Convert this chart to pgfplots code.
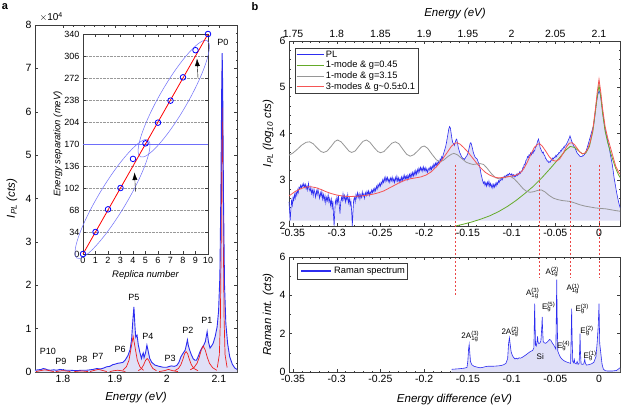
\documentclass[border=0pt]{standalone}
\usepackage{fontspec}
\setmainfont{Liberation Sans}
\usepackage{pgfplots}
\usepackage{pgfplotstable}
\pgfplotsset{compat=1.18}
\usetikzlibrary{arrows.meta,shapes.geometric}

\definecolor{plblue}{RGB}{45,45,240}
\definecolor{lav}{RGB}{224,224,247}
\definecolor{fitred}{RGB}{238,30,30}
\definecolor{bred}{RGB}{245,85,85}
\definecolor{bgreen}{RGB}{100,170,40}
\definecolor{bgray}{RGB}{150,150,150}
\definecolor{dred}{RGB}{235,70,70}
\definecolor{elblue}{RGB}{110,110,250}
\definecolor{frm}{RGB}{60,60,60}

\newcommand{\fsz}[2]{\fontsize{#1}{#2}\selectfont}
\newcommand{\ph}[3]{#1\rlap{\textsuperscript{#3}}\textsubscript{#2}}

\pgfplotsset{
  mybase/.style={scale only axis, tick align=inside, axis line style={frm},
    tick style={frm, line width=0.4pt}, major tick length=3pt, minor tick length=1.5pt,
    /pgf/number format/assume math mode=true,
    tick label style={font=\fsz{10.5}{12}},
    label style={font=\fsz{11.5}{13}\itshape}},
}

% ---------- panel a : PL spectrum (x 10^4 cts) ----------
\pgfplotstableread{
x y
1.746 0.04
1.752 0.05
1.758 0.06
1.762 0.08
1.766 0.07
1.770 0.05
1.776 0.04
1.782 0.05
1.788 0.04
1.794 0.06
1.800 0.05
1.806 0.04
1.815 0.04
1.825 0.03
1.835 0.04
1.845 0.04
1.852 0.05
1.858 0.06
1.865 0.08
1.872 0.07
1.878 0.09
1.884 0.12
1.890 0.13
1.896 0.17
1.900 0.18
1.905 0.20
1.910 0.21
1.915 0.22
1.920 0.28
1.925 0.38
1.929 0.51
1.932 0.75
1.9345 1.20
1.9365 1.50
1.9385 1.05
1.940 0.80
1.9425 0.85
1.945 0.62
1.948 0.45
1.951 0.31
1.953 0.40
1.9545 0.44
1.956 0.33
1.959 0.45
1.9615 0.62
1.964 0.48
1.967 0.31
1.971 0.22
1.977 0.16
1.985 0.13
1.993 0.11
2.000 0.11
2.005 0.13
2.009 0.14
2.014 0.13
2.019 0.15
2.023 0.22
2.027 0.35
2.031 0.43
2.035 0.50
2.0375 0.62
2.0395 0.74
2.0415 0.60
2.044 0.50
2.047 0.40
2.0505 0.31
2.054 0.27
2.057 0.27
2.060 0.35
2.0635 0.46
2.067 0.55
2.071 0.62
2.074 0.70
2.0775 0.93
2.080 0.70
2.083 0.55
2.086 0.60
2.089 0.66
2.093 0.82
2.0967 1.04
2.0995 1.40
2.102 2.20
2.104 4.20
2.1055 6.50
2.1065 7.35
2.1075 6.50
2.109 4.00
2.111 2.00
2.1135 1.12
2.117 0.65
2.121 0.35
2.126 0.18
2.131 0.09
2.135 0.06
}\pla

% ---------- panel b top : PL (log10 cts) vs energy difference ----------
\pgfplotstableread{
x y
-0.3546 2.52
-0.3538 2.30
-0.3532 2.12
-0.3525 2.35
-0.3517 2.55
-0.3508 2.45
-0.3500 2.62
-0.3492 2.55
-0.3484 2.68
-0.3475 2.60
-0.3466 2.74
-0.3457 2.66
-0.3448 2.78
-0.3440 2.72
-0.3431 2.84
-0.3422 2.80
-0.3413 2.88
-0.3404 2.82
-0.3395 2.90
-0.3386 2.85
-0.3377 2.92
-0.3368 2.84
-0.3359 2.90
-0.3350 2.80
-0.3341 2.87
-0.3332 2.78
-0.3323 2.92
-0.3314 2.80
-0.3305 2.75
-0.3296 2.84
-0.3287 2.70
-0.3278 2.78
-0.3269 2.66
-0.3260 2.80
-0.3251 2.72
-0.3242 2.62
-0.3233 2.76
-0.3224 2.68
-0.3215 2.80
-0.3206 2.70
-0.3197 2.60
-0.3188 2.72
-0.3179 2.64
-0.3170 2.75
-0.3161 2.58
-0.3152 2.68
-0.3143 2.55
-0.3134 2.66
-0.3125 2.50
-0.3116 2.62
-0.3107 2.55
-0.3098 2.68
-0.3089 2.52
-0.3080 2.60
-0.3071 2.45
-0.3062 2.58
-0.3053 2.40
-0.3044 2.55
-0.3036 2.20
-0.3030 2.00
-0.3024 2.25
-0.3016 2.55
-0.3007 2.48
-0.2998 2.62
-0.2989 2.50
-0.2980 2.66
-0.2971 2.45
-0.2963 2.27
-0.2955 2.50
-0.2946 2.62
-0.2937 2.55
-0.2928 2.70
-0.2919 2.58
-0.2910 2.66
-0.2901 2.52
-0.2892 2.64
-0.2883 2.56
-0.2874 2.68
-0.2865 2.50
-0.2856 2.60
-0.2847 2.45
-0.2838 2.55
-0.2829 2.30
-0.2822 2.00
-0.2815 2.28
-0.2807 2.55
-0.2798 2.62
-0.2789 2.52
-0.2780 2.68
-0.2771 2.60
-0.2762 2.72
-0.2753 2.62
-0.2744 2.70
-0.2735 2.58
-0.2726 2.68
-0.2717 2.62
-0.2708 2.74
-0.2699 2.64
-0.2690 2.70
-0.2681 2.60
-0.2672 2.72
-0.2663 2.66
-0.2654 2.75
-0.2645 2.68
-0.2636 2.76
-0.2627 2.66
-0.2618 2.74
-0.2609 2.70
-0.2600 2.78
-0.2591 2.72
-0.2582 2.80
-0.2573 2.74
-0.2564 2.82
-0.2555 2.76
-0.2546 2.86
-0.2537 2.80
-0.2528 2.90
-0.2519 2.84
-0.2510 2.92
-0.2501 2.86
-0.2492 2.95
-0.2483 2.90
-0.2474 3.00
-0.2465 2.94
-0.2456 3.04
-0.2447 2.96
-0.2438 3.06
-0.2429 2.98
-0.2420 3.05
-0.2411 2.96
-0.2402 3.02
-0.2393 2.94
-0.2384 3.04
-0.2375 2.98
-0.2366 3.06
-0.2357 2.96
-0.2348 3.02
-0.2339 2.94
-0.2330 3.05
-0.2321 2.98
-0.2312 3.08
-0.2303 2.97
-0.2294 3.04
-0.2285 2.95
-0.2276 3.03
-0.2267 2.96
-0.2258 3.06
-0.2249 2.98
-0.2240 3.08
-0.2231 3.00
-0.2222 3.10
-0.2213 3.02
-0.2204 3.08
-0.2195 3.00
-0.2186 3.10
-0.2177 3.03
-0.2168 3.12
-0.2159 3.05
-0.2150 3.14
-0.2141 3.06
-0.2132 3.16
-0.2123 3.08
-0.2114 3.18
-0.2105 3.10
-0.2096 3.20
-0.2087 3.12
-0.2078 3.22
-0.2069 3.15
-0.2060 3.25
-0.2051 3.18
-0.2042 3.27
-0.2033 3.20
-0.2024 3.26
-0.2015 3.18
-0.2006 3.28
-0.1997 3.20
-0.1988 3.26
-0.1979 3.18
-0.1970 3.24
-0.1961 3.16
-0.1952 3.22
-0.1943 3.26
-0.1934 3.20
-0.1925 3.28
-0.1916 3.22
-0.1907 3.30
-0.1898 3.25
-0.1889 3.34
-0.1880 3.28
-0.1871 3.36
-0.1862 3.30
-0.1853 3.38
-0.1844 3.32
-0.1835 3.40
-0.1826 3.36
-0.1817 3.45
-0.1808 3.40
-0.1799 3.50
-0.1790 3.46
-0.1781 3.55
-0.1772 3.60
-0.1763 3.66
-0.1754 3.72
-0.1745 3.80
-0.1736 3.90
-0.1727 4.00
-0.1718 4.10
-0.1709 4.15
-0.1700 4.12
-0.1691 4.00
-0.1682 3.88
-0.1673 3.80
-0.1664 3.78
-0.1655 3.74
-0.1646 3.80
-0.1637 3.86
-0.1628 3.88
-0.1619 3.80
-0.1610 3.70
-0.1601 3.64
-0.1592 3.58
-0.1583 3.55
-0.1574 3.50
-0.1565 3.48
-0.1556 3.45
-0.1547 3.46
-0.1538 3.44
-0.1529 3.47
-0.1520 3.50
-0.1511 3.52
-0.1502 3.56
-0.1493 3.62
-0.1484 3.70
-0.1475 3.78
-0.1466 3.80
-0.1457 3.75
-0.1448 3.68
-0.1439 3.60
-0.1430 3.55
-0.1421 3.50
-0.1412 3.48
-0.1403 3.46
-0.1394 3.45
-0.1385 3.40
-0.1376 3.35
-0.1367 3.30
-0.1358 3.22
-0.1349 3.12
-0.1340 3.05
-0.1331 2.98
-0.1322 2.92
-0.1313 2.96
-0.1304 2.88
-0.1295 2.94
-0.1286 2.86
-0.1277 2.95
-0.1268 2.88
-0.1259 2.97
-0.1250 2.86
-0.1241 2.92
-0.1232 2.84
-0.1223 2.90
-0.1214 2.82
-0.1205 2.90
-0.1196 2.84
-0.1187 2.92
-0.1178 2.86
-0.1169 2.94
-0.1160 2.90
-0.1151 2.98
-0.1142 2.94
-0.1133 3.00
-0.1124 2.98
-0.1115 3.04
-0.1106 3.00
-0.1097 3.06
-0.1088 3.04
-0.1079 3.08
-0.1070 3.05
-0.1061 3.10
-0.1052 3.08
-0.1043 3.12
-0.1034 3.10
-0.1025 3.14
-0.1016 3.12
-0.1007 3.10
-0.0998 3.13
-0.0989 3.08
-0.0980 3.11
-0.0971 3.06
-0.0962 3.10
-0.0953 3.07
-0.0944 3.12
-0.0935 3.09
-0.0926 3.14
-0.0917 3.11
-0.0908 3.17
-0.0899 3.14
-0.0890 3.19
-0.0881 3.18
-0.0872 3.26
-0.0863 3.27
-0.0854 3.34
-0.0845 3.33
-0.0836 3.42
-0.0827 3.43
-0.0818 3.50
-0.0809 3.48
-0.0800 3.54
-0.0791 3.52
-0.0782 3.58
-0.0773 3.54
-0.0764 3.60
-0.0755 3.57
-0.0746 3.63
-0.0737 3.62
-0.0728 3.70
-0.0719 3.72
-0.0710 3.78
-0.0701 3.84
-0.0692 3.88
-0.0683 3.80
-0.0674 3.70
-0.0665 3.66
-0.0656 3.62
-0.0647 3.58
-0.0638 3.60
-0.0629 3.54
-0.0620 3.52
-0.0611 3.46
-0.0602 3.45
-0.0593 3.40
-0.0584 3.41
-0.0575 3.37
-0.0566 3.39
-0.0557 3.38
-0.0548 3.43
-0.0539 3.42
-0.0530 3.47
-0.0521 3.45
-0.0512 3.49
-0.0503 3.48
-0.0494 3.53
-0.0485 3.50
-0.0476 3.55
-0.0467 3.55
-0.0458 3.59
-0.0449 3.58
-0.0440 3.63
-0.0431 3.62
-0.0422 3.67
-0.0413 3.66
-0.0404 3.71
-0.0395 3.70
-0.0386 3.75
-0.0377 3.75
-0.0368 3.79
-0.0359 3.82
-0.0350 3.86
-0.0341 3.90
-0.0332 3.95
-0.0323 3.90
-0.0314 3.84
-0.0305 3.80
-0.0296 3.76
-0.0287 3.72
-0.0278 3.70
-0.0269 3.66
-0.0260 3.62
-0.0251 3.58
-0.0242 3.56
-0.0233 3.54
-0.0224 3.52
-0.0215 3.50
-0.0206 3.50
-0.0197 3.50
-0.0188 3.52
-0.0179 3.52
-0.0170 3.54
-0.0161 3.56
-0.0152 3.60
-0.0143 3.65
-0.0134 3.70
-0.0125 3.76
-0.0116 3.82
-0.0107 3.88
-0.0098 3.94
-0.0089 4.00
-0.0080 4.06
-0.0071 4.12
-0.0062 4.18
-0.0053 4.30
-0.0044 4.45
-0.0035 4.60
-0.0026 4.72
-0.0017 4.82
-0.0008 4.88
0.0001 4.92
0.0010 4.88
0.0019 4.80
0.0028 4.68
0.0037 4.55
0.0046 4.40
0.0055 4.28
0.0064 4.15
0.0073 4.06
0.0082 3.98
0.0091 3.92
0.0100 3.84
0.0109 3.75
0.0118 3.68
0.0127 3.58
0.0136 3.48
0.0145 3.40
0.0154 3.30
0.0163 3.18
0.0172 3.05
0.0181 2.95
0.0190 2.85
0.0199 2.75
0.0208 2.66
0.0217 2.58
0.0226 2.50
0.0235 2.44
0.0240 2.40
}\pbt

\pgfplotstableread{
x y
-0.3546 2.65
-0.3480 2.74
-0.3420 2.80
-0.3360 2.84
-0.3300 2.85
-0.3240 2.83
-0.3180 2.79
-0.3120 2.74
-0.3060 2.70
-0.3000 2.67
-0.2940 2.65
-0.2880 2.64
-0.2820 2.64
-0.2760 2.645
-0.2700 2.655
-0.2640 2.67
-0.2580 2.69
-0.2520 2.72
-0.2460 2.76
-0.2400 2.82
-0.2340 2.88
-0.2280 2.94
-0.2220 2.99
-0.2160 3.02
-0.2100 3.04
-0.2040 3.06
-0.1980 3.10
-0.1920 3.17
-0.1860 3.28
-0.1800 3.42
-0.1740 3.58
-0.1690 3.72
-0.1650 3.79
-0.1620 3.80
-0.1590 3.77
-0.1550 3.70
-0.1500 3.60
-0.1450 3.48
-0.1400 3.36
-0.1350 3.25
-0.1300 3.16
-0.1250 3.10
-0.1200 3.06
-0.1150 3.04
-0.1100 3.05
-0.1050 3.06
-0.1000 3.08
-0.0950 3.10
-0.0900 3.15
-0.0860 3.24
-0.0820 3.38
-0.0780 3.55
-0.0740 3.70
-0.0700 3.77
-0.0680 3.78
-0.0650 3.73
-0.0610 3.62
-0.0570 3.50
-0.0530 3.42
-0.0490 3.40
-0.0450 3.45
-0.0410 3.57
-0.0370 3.72
-0.0340 3.79
-0.0310 3.80
-0.0280 3.76
-0.0250 3.68
-0.0220 3.60
-0.0190 3.56
-0.0160 3.58
-0.0130 3.66
-0.0100 3.82
-0.0070 4.10
-0.0040 4.55
-0.0020 4.90
0.0000 5.17
0.0020 4.90
0.0040 4.55
0.0070 4.15
0.0100 3.90
0.0130 3.70
0.0160 3.50
0.0190 3.30
0.0220 3.18
0.0240 3.12
}\pbred

\pgfplotstableread{
x y
-0.1640 2.00
-0.1550 2.04
-0.1450 2.09
-0.1350 2.15
-0.1250 2.22
-0.1150 2.31
-0.1050 2.42
-0.0950 2.55
-0.0850 2.70
-0.0750 2.86
-0.0650 3.05
-0.0550 3.26
-0.0450 3.48
-0.0380 3.64
-0.0330 3.72
-0.0280 3.70
-0.0230 3.62
-0.0190 3.56
-0.0150 3.58
-0.0110 3.72
-0.0070 4.05
-0.0040 4.50
-0.0020 4.80
0.0000 5.05
0.0020 4.80
0.0040 4.45
0.0070 4.05
0.0100 3.80
0.0130 3.60
0.0160 3.42
0.0190 3.25
0.0220 3.12
0.0240 3.05
}\pbgreen

\pgfplotstableread{
x y
-0.3546 3.53
-0.3500 3.58
-0.3450 3.66
-0.3400 3.75
-0.3350 3.81
-0.3310 3.82
-0.3270 3.78
-0.3220 3.68
-0.3180 3.61
-0.3150 3.59
-0.3110 3.62
-0.3060 3.73
-0.3020 3.83
-0.2990 3.86
-0.2950 3.82
-0.2900 3.71
-0.2860 3.62
-0.2830 3.59
-0.2790 3.62
-0.2740 3.74
-0.2700 3.83
-0.2660 3.86
-0.2620 3.81
-0.2570 3.69
-0.2530 3.61
-0.2500 3.585
-0.2460 3.61
-0.2410 3.71
-0.2370 3.79
-0.2330 3.82
-0.2290 3.78
-0.2240 3.65
-0.2200 3.55
-0.2160 3.51
-0.2120 3.54
-0.2070 3.63
-0.2030 3.71
-0.1998 3.73
-0.1960 3.68
-0.1910 3.55
-0.1860 3.43
-0.1820 3.39
-0.1780 3.42
-0.1730 3.50
-0.1690 3.55
-0.1660 3.57
-0.1620 3.54
-0.1570 3.46
-0.1520 3.38
-0.1480 3.35
-0.1440 3.33
-0.1400 3.34
-0.1360 3.35
-0.1320 3.33
-0.1280 3.25
-0.1230 3.13
-0.1180 3.04
-0.1140 3.02
-0.1100 3.04
-0.1050 3.07
-0.1010 3.07
-0.0970 3.02
-0.0920 2.92
-0.0870 2.81
-0.0830 2.75
-0.0790 2.73
-0.0750 2.74
-0.0700 2.77
-0.0660 2.78
-0.0620 2.74
-0.0570 2.66
-0.0520 2.60
-0.0470 2.57
-0.0420 2.55
-0.0370 2.54
-0.0330 2.53
-0.0280 2.50
-0.0220 2.46
-0.0160 2.43
-0.0100 2.41
-0.0040 2.39
0.0020 2.38
0.0080 2.37
0.0140 2.35
0.0200 2.33
0.0240 2.32
}\pbgray

% ---------- panel b bottom : Raman ----------
\pgfplotstableread{
x y
-0.1686 0.14
-0.1600 0.17
-0.1540 0.20
-0.1510 0.24
-0.1500 0.60
-0.1492 1.20
-0.1485 1.44
-0.1478 1.00
-0.1470 0.55
-0.1455 0.38
-0.1430 0.30
-0.1400 0.26
-0.1360 0.22
-0.1330 0.24
-0.1300 0.28
-0.1270 0.30
-0.1240 0.30
-0.1210 0.30
-0.1180 0.31
-0.1150 0.32
-0.1120 0.34
-0.1090 0.38
-0.1065 0.45
-0.1045 0.70
-0.1035 1.45
-0.1025 1.79
-0.1015 1.40
-0.1005 1.05
-0.0990 0.85
-0.0975 0.75
-0.0960 0.68
-0.0945 0.72
-0.0930 0.68
-0.0915 0.74
-0.0900 0.72
-0.0880 0.76
-0.0860 0.82
-0.0840 0.88
-0.0820 0.95
-0.0800 1.02
-0.0780 1.08
-0.0760 1.12
-0.0745 1.25
-0.0740 2.50
-0.0736 3.57
-0.0731 2.40
-0.0726 1.40
-0.0718 1.35
-0.0710 1.55
-0.0703 1.86
-0.0697 1.55
-0.0688 1.48
-0.0675 1.52
-0.0665 1.62
-0.0655 2.30
-0.0650 2.87
-0.0645 2.20
-0.0638 1.58
-0.0625 1.52
-0.0610 1.50
-0.0595 1.55
-0.0580 1.62
-0.0565 1.70
-0.0550 1.65
-0.0535 1.52
-0.0520 1.42
-0.0505 1.30
-0.0494 1.20
-0.0488 3.00
-0.0484 4.82
-0.0479 3.00
-0.0472 1.10
-0.0460 0.95
-0.0445 0.80
-0.0430 0.70
-0.0410 0.62
-0.0390 0.56
-0.0370 0.52
-0.0345 0.48
-0.0325 0.45
-0.0318 2.00
-0.0313 3.30
-0.0308 1.80
-0.0300 0.55
-0.0290 0.48
-0.0282 0.65
-0.0275 0.45
-0.0262 0.42
-0.0250 0.55
-0.0240 0.40
-0.0228 0.45
-0.0221 1.20
-0.0217 2.00
-0.0212 1.00
-0.0205 0.42
-0.0190 0.40
-0.0175 0.42
-0.0163 0.66
-0.0158 0.50
-0.0145 0.36
-0.0120 0.38
-0.0090 0.42
-0.0060 0.50
-0.0035 0.80
-0.0020 1.60
-0.0008 2.50
0.0000 3.57
0.0008 1.50
0.0020 1.00
0.0035 0.40
0.0050 0.15
0.0070 0.07
0.0100 0.05
0.0150 0.05
0.0200 0.08
0.0220 0.15
0.0240 0.22
}\ram

\begin{document}
\begin{tikzpicture}

% ================= panel a =================
\begin{axis}[mybase, at={(35pt,36pt)}, anchor=south west, width=202pt, height=347pt,
  xmin=1.746, xmax=2.135, ymin=0, ymax=8,
  xtick={1.8,1.9,2,2.1}, ytick={0,1,2,3,4,5,6,7,8},
  minor x tick num=4, minor y tick num=4,
  xlabel={Energy (eV)}, ylabel={I\textsubscript{PL} (cts)},
  xlabel style={at={(axis description cs:0.5,-0.075)}, anchor=center},
  ylabel style={at={(axis description cs:-0.114,0.5)}, anchor=center}]
\addplot[draw=none, fill=lav, forget plot] table {\pla} \closedcycle;
% Lorentzian fit of P0 (below the PL line)
\addplot[fitred, line width=0.7pt] coordinates {(2.097,0.1) (2.101,0.4) (2.103,1.2) (2.1045,3.0) (2.1058,5.5) (2.1066,7.0) (2.1074,5.5) (2.1087,3.0) (2.1102,1.2) (2.112,0.4) (2.116,0.1)};
\addplot[plblue, line width=0.9pt] table {\pla};
% Lorentzian fits of replicas
\addplot[fitred, line width=0.7pt] coordinates {(2.045,0.05) (2.052,0.1) (2.058,0.2) (2.062,0.33) (2.066,0.5) (2.070,0.60) (2.074,0.5) (2.078,0.33) (2.082,0.2) (2.088,0.1) (2.096,0.04)};
\addplot[fitred, line width=0.7pt] coordinates {(2.015,0.03) (2.022,0.08) (2.027,0.17) (2.031,0.30) (2.034,0.42) (2.037,0.47) (2.040,0.42) (2.043,0.30) (2.047,0.17) (2.052,0.08) (2.060,0.03)};
\addplot[fitred, line width=0.7pt] coordinates {(1.985,0.01) (1.995,0.03) (2.003,0.06) (2.011,0.03) (2.021,0.01)};
\addplot[fitred, line width=0.7pt] coordinates {(1.945,0.03) (1.951,0.08) (1.955,0.16) (1.959,0.27) (1.962,0.31) (1.965,0.27) (1.969,0.16) (1.973,0.08) (1.980,0.03)};
\addplot[fitred, line width=0.7pt] coordinates {(1.915,0.04) (1.922,0.12) (1.927,0.27) (1.931,0.55) (1.935,0.82) (1.939,0.55) (1.943,0.27) (1.948,0.12) (1.955,0.04)};
\addplot[fitred, line width=0.7pt] coordinates {(1.890,0.01) (1.898,0.03) (1.905,0.04) (1.912,0.03) (1.920,0.01)};
\addplot[fitred, line width=0.7pt] coordinates {(1.852,0.01) (1.861,0.04) (1.868,0.06) (1.875,0.04) (1.884,0.01)};
\addplot[fitred, line width=0.7pt] coordinates {(1.822,0.01) (1.830,0.02) (1.835,0.025) (1.840,0.02) (1.848,0.01)};
\addplot[fitred, line width=0.7pt] coordinates {(1.786,0.01) (1.795,0.025) (1.800,0.03) (1.805,0.025) (1.814,0.01)};
\addplot[fitred, line width=0.7pt] coordinates {(1.748,0.01) (1.758,0.035) (1.765,0.05) (1.772,0.035) (1.782,0.01)};
\begin{scope}[font=\fsz{9}{10}]
\node at (axis cs:1.771,0.48) {P10};
\node at (axis cs:1.796,0.25) {P9};
\node at (axis cs:1.8365,0.28) {P8};
\node at (axis cs:1.867,0.37) {P7};
\node at (axis cs:1.9097,0.53) {P6};
\node at (axis cs:1.9366,1.73) {P5};
\node at (axis cs:1.9636,0.83) {P4};
\node at (axis cs:2.006,0.32) {P3};
\node at (axis cs:2.0406,0.97) {P2};
\node at (axis cs:2.0772,1.18) {P1};
\node at (axis cs:2.108,7.61) {P0};
\end{scope}
\end{axis}
\node[font=\fsz{10}{12}, anchor=west] at (36pt,391pt) {$\times$10\textsuperscript{4}};

% ---------- inset ----------
\begin{axis}[mybase, at={(83pt,154pt)}, anchor=south west, width=125pt, height=220pt,
  xmin=0, xmax=10, ymin=0, ymax=340,
  xtick={0,1,2,3,4,5,6,7,8,9,10}, ytick={0,34,68,102,136,170,204,238,272,306,340},
  tick label style={font=\fsz{9}{10}}, label style={font=\fsz{9.5}{11}\itshape},
  ymajorgrids, grid style={densely dotted, gray!80},
  axis background/.style={fill=white}, clip=false,
  xlabel={Replica number}, ylabel={Energy separation (meV)},
  xlabel style={at={(axis description cs:0.5,-0.095)}, anchor=center},
  ylabel style={at={(axis description cs:-0.2,0.5)}, anchor=center}]
\addplot[elblue, line width=0.7pt] coordinates {(0,170) (10,170)};
\node[draw=elblue, line width=0.5pt, ellipse, rotate=59, minimum width=138pt, minimum height=28pt, inner sep=0pt] at (axis cs:2.36,85) {};
\node[draw=elblue, line width=0.5pt, ellipse, rotate=60, minimum width=134pt, minimum height=28pt, inner sep=0pt] at (axis cs:7.26,240) {};
\addplot[red, line width=0.8pt] coordinates {(0,0) (10,340)};
\addplot[only marks, mark=o, blue, mark size=2.8pt, mark options={line width=0.8pt}] coordinates {(0,0) (1,34) (2,69) (3,102) (4,147) (5,171) (6,203) (7,237) (8,273) (9,315) (10,340)};
\draw[-{Latex[length=7.5pt,width=5pt]}, line width=0.4pt] (axis cs:4.2,96) -- (axis cs:4.12,126);
\draw[-{Latex[length=7.5pt,width=5pt]}, line width=0.4pt] (axis cs:9.2,272) -- (axis cs:9.12,302);
\end{axis}

% ================= panel b top =================
\begin{axis}[mybase, at={(289pt,182pt)}, anchor=south west, width=331pt, height=185pt,
  xmin=-0.3546, xmax=0.024, ymin=2, ymax=6, clip=false,
  xtick={-0.35,-0.3,-0.25,-0.2,-0.15,-0.1,-0.05,0},
  xticklabels={-0.35,-0.3,-0.25,-0.2,-0.15,-0.1,-0.05,0},
  ytick={2,3,4,5,6}, minor x tick num=4, minor y tick num=4,
  ylabel={I\textsubscript{PL} (log\textsubscript{10} cts)},
  ylabel style={at={(axis description cs:-0.063,0.5)}, anchor=center},
  legend style={at={(axis description cs:0.018,0.962)}, anchor=north west, draw=frm,
    line width=0.4pt, font=\fsz{9.3}{11}, inner xsep=1pt, inner ysep=0.5pt,
    row sep=-1.5pt, cells={anchor=west}},
  legend image code/.code={\draw[#1] (0pt,0pt) -- (27pt,0pt);}]
\addplot[draw=none, fill=lav, forget plot] table {\pbt} -- (axis cs:0.024,2.115) -- (axis cs:-0.3546,2.115) -- cycle;
\addplot[plblue, line width=0.6pt] table {\pbt};
\addlegendentry{PL}
\addplot[bgreen, line width=0.8pt] table {\pbgreen};
\addlegendentry{1-mode \& g=0.45}
\addplot[bgray, line width=0.8pt] table {\pbgray};
\addlegendentry{1-mode \& g=3.15}
\addplot[bred, line width=0.8pt] table {\pbred};
\addlegendentry{3-modes \& g\textasciitilde 0.5±0.1}
\draw[draw=dred, line width=0.8pt, dash pattern=on 2.5pt off 1.5pt] (axis cs:-0.1648,3.32) -- (axis cs:-0.1648,0.471);
\draw[draw=dred, line width=0.8pt, dash pattern=on 2.5pt off 1.5pt] (axis cs:-0.0683,3.32) -- (axis cs:-0.0683,0.869);
\draw[draw=dred, line width=0.8pt, dash pattern=on 2.5pt off 1.5pt] (axis cs:-0.0324,3.32) -- (axis cs:-0.0324,0.869);
\draw[draw=dred, line width=0.8pt, dash pattern=on 2.5pt off 1.5pt] (axis cs:0.0003,3.32) -- (axis cs:0.0003,0.869);
\end{axis}

% top energy axis
\begin{axis}[mybase, at={(289pt,182pt)}, anchor=south west, width=331pt, height=185pt,
  xmin=1.7454, xmax=2.124, ymin=0, ymax=1,
  axis x line*=top, axis y line=none, tick align=inside,
  xtick={1.75,1.8,1.85,1.9,1.95,2,2.05,2.1},
  xticklabels={1.75,1.8,1.85,1.9,1.95,2,2.05,2.1},
  minor x tick num=4]
\end{axis}
\node[font=\fsz{11.5}{13}\itshape] at (455pt,394pt) {Energy (eV)};

% ================= panel b bottom =================
\begin{axis}[mybase, at={(289pt,36pt)}, anchor=south west, width=331pt, height=115pt,
  xmin=-0.3546, xmax=0.024, ymin=0, ymax=6,
  xtick={-0.35,-0.3,-0.25,-0.2,-0.15,-0.1,-0.05,0},
  xticklabels={-0.35,-0.3,-0.25,-0.2,-0.15,-0.1,-0.05,0},
  ytick={0,2,4,6}, minor x tick num=4, minor y tick num=1,
  xlabel={Energy difference (eV)}, ylabel={Raman int. (cts)},
  xlabel style={at={(axis description cs:0.5,-0.235)}, anchor=center},
  ylabel style={at={(axis description cs:-0.063,0.5)}, anchor=center}]
\addplot[draw=none, fill=lav, forget plot] table {\ram} \closedcycle;
\addplot[plblue, line width=0.6pt, forget plot] table {\ram};
\begin{scope}[font=\fsz{8}{9.5}]
\node at (axis cs:-0.1476,1.85) {2\ph{A}{1g}{(3)}};
\node at (axis cs:-0.1018,2.10) {2\ph{A}{1g}{(2)}};
\node at (axis cs:-0.0762,4.10) {\ph{A}{1g}{(3)}};
\node at (axis cs:-0.0598,3.40) {\ph{E}{g}{(5)}};
\node at (axis cs:-0.0538,5.22) {\ph{A}{1g}{(2)}};
\node at (axis cs:-0.0672,0.78) {Si};
\node at (axis cs:-0.0428,1.38) {\ph{E}{g}{(4)}};
\node at (axis cs:-0.0300,4.35) {\ph{A}{1g}{(1)}};
\node at (axis cs:-0.0215,3.30) {\ph{E}{g}{(3)}};
\node at (axis cs:-0.0160,2.15) {\ph{E}{g}{(2)}};
\node at (axis cs:-0.0125,0.85) {\ph{E}{g}{(1)}};
\end{scope}
\end{axis}
% legend of the Raman panel
\draw[frm, line width=0.4pt, fill=white] (297pt,129pt) rectangle (407pt,145pt);
\draw[plblue, line width=1.2pt] (301pt,137pt) -- (331pt,137pt);
\node[font=\fsz{9.3}{11}, anchor=west, inner sep=1pt] at (333pt,137pt) {Raman spectrum};

\node[font=\bfseries\fsz{11}{13}] at (5pt,401pt) {a};
\node[font=\bfseries\fsz{11}{13}] at (255pt,401pt) {b};

\pgfresetboundingbox
\useasboundingbox (0pt,0pt) rectangle (622pt,408pt);
\end{tikzpicture}
\end{document}
